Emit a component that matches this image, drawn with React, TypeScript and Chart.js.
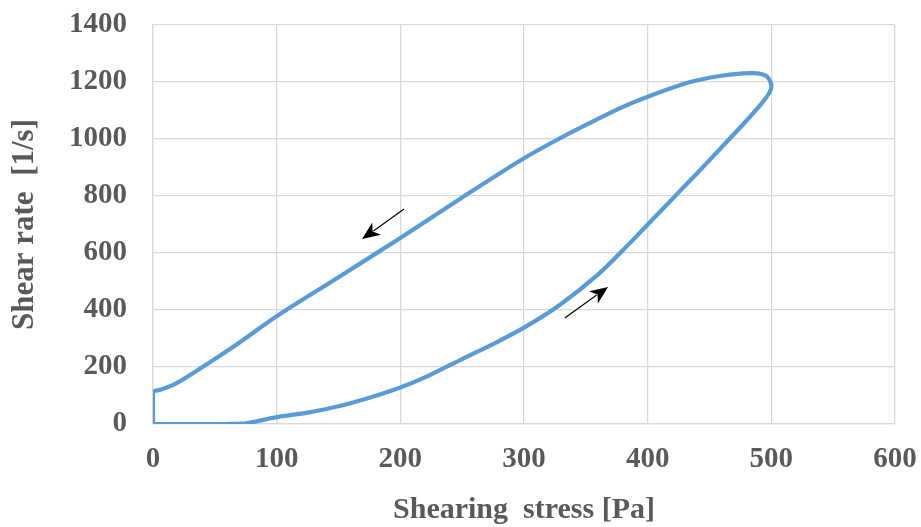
import React, { useEffect, useRef } from "react";
import { Chart, registerables } from "chart.js";

Chart.register(...registerables);

// Loop: loading branch (lower) then unloading branch (upper)
const stressPa = [0, 40, 60, 75, 100, 125, 150, 175, 200, 223, 250, 277, 300, 328, 360, 385, 400, 420, 440, 460, 480, 495, 500, 497, 489, 477, 457, 433, 400, 376, 355, 328, 299, 250, 200, 150, 100, 70, 50, 30, 18, 6, 0, 0];
const shearRate = [0, 0, 0, 2, 24, 40, 62, 92, 128, 170, 228, 285, 338, 415, 525, 632, 700, 790, 880, 972, 1065, 1140, 1182, 1217, 1230, 1230, 1220, 1198, 1148, 1105, 1060, 1000, 930, 795, 653, 515, 378, 286, 228, 172, 141, 120, 111, 0];

const xTicks = [0, 100, 200, 300, 400, 500, 600];
const yTicks = [0, 200, 400, 600, 800, 1000, 1200, 1400];

const arrowTailX = [203, 333];
const arrowTailY = [754, 372];
const arrowTipX = [169, 368];
const arrowTipY = [649, 481];

const xTitle = "Shearing  stress [Pa]";
const yTitle = "Shear rate  [1/s]";

const textColor = "#595959";
const gridColor = "#d9d9d9";
const fontFamily = "'Liberation Serif', 'Times New Roman', serif";

const arrowPlugin = {
  id: "arrows",
  afterDatasetsDraw(chart: any) {
    const { ctx, scales } = chart;
    const xs = scales.x;
    const ys = scales.y;
    ctx.save();
    for (let i = 0; i < arrowTailX.length; i++) {
      const x1 = xs.getPixelForValue(arrowTailX[i]);
      const y1 = ys.getPixelForValue(arrowTailY[i]);
      const x2 = xs.getPixelForValue(arrowTipX[i]);
      const y2 = ys.getPixelForValue(arrowTipY[i]);
      const ang = Math.atan2(y2 - y1, x2 - x1);
      const headLen = 18;
      const headHalf = 7.5;
      const bx = x2 - headLen * Math.cos(ang);
      const by = y2 - headLen * Math.sin(ang);
      ctx.strokeStyle = "#000";
      ctx.lineWidth = 1.2;
      ctx.beginPath();
      ctx.moveTo(x1, y1);
      ctx.lineTo(bx + 4 * Math.cos(ang), by + 4 * Math.sin(ang));
      ctx.stroke();
      const px = -Math.sin(ang);
      const py = Math.cos(ang);
      const nx = x2 - (headLen - 5) * Math.cos(ang);
      const ny = y2 - (headLen - 5) * Math.sin(ang);
      ctx.fillStyle = "#000";
      ctx.beginPath();
      ctx.moveTo(x2, y2);
      ctx.lineTo(bx + px * headHalf, by + py * headHalf);
      ctx.lineTo(nx, ny);
      ctx.lineTo(bx - px * headHalf, by - py * headHalf);
      ctx.closePath();
      ctx.fill();
    }
    ctx.restore();
  },
};

const zeroPad = (scale: any) => {
  scale.paddingTop = 0;
  scale.paddingBottom = 0;
  scale.paddingLeft = 0;
  scale.paddingRight = 0;
};

export default function App() {
  const canvasRef = useRef<HTMLCanvasElement | null>(null);

  useEffect(() => {
    const canvas = canvasRef.current;
    if (!canvas) return;
    const points = stressPa.map((x, i) => ({ x, y: shearRate[i] }));
    const chart = new Chart(canvas, {
      type: "scatter",
      data: {
        datasets: [
          {
            data: points,
            showLine: true,
            borderColor: "#5B9BD5",
            borderWidth: 4.2,
            pointRadius: 0,
            tension: 0.3,
            fill: false,
          },
        ],
      },
      options: {
        animation: false,
        responsive: false,
        maintainAspectRatio: false,
        layout: { padding: { top: 25, right: 26, bottom: 0, left: 0 } },
        plugins: {
          legend: { display: false },
          tooltip: { enabled: false },
        },
        scales: {
          x: {
            type: "linear",
            min: 0,
            max: 600,
            afterBuildTicks: (scale: any) => {
              scale.ticks = xTicks.map((v) => ({ value: v }));
            },
            afterFit: (scale: any) => {
              scale.height = 103;
              zeroPad(scale);
            },
            grid: { color: gridColor, lineWidth: 1.3, drawTicks: false },
            border: { color: gridColor, width: 1.3 },
            ticks: {
              color: textColor,
              font: { family: fontFamily, size: 29, weight: "bold" },
              padding: 18,
              maxRotation: 0,
              callback: (v: any) => String(v),
            },
            title: {
              display: true,
              text: xTitle,
              color: textColor,
              font: { family: fontFamily, size: 30, weight: "bold" },
              padding: { top: 0, bottom: -1 },
            },
          },
          y: {
            type: "linear",
            min: 0,
            max: 1400,
            afterBuildTicks: (scale: any) => {
              scale.ticks = yTicks.map((v) => ({ value: v }));
            },
            afterFit: (scale: any) => {
              scale.width = 153;
              zeroPad(scale);
            },
            grid: { color: gridColor, lineWidth: 1.3, drawTicks: false },
            border: { color: gridColor, width: 1.3 },
            ticks: {
              color: textColor,
              font: { family: fontFamily, size: 29, weight: "bold" },
              padding: 26,
              callback: (v: any) => String(v),
            },
            title: {
              display: true,
              text: yTitle,
              color: textColor,
              font: { family: fontFamily, size: 31, weight: "bold" },
              padding: { top: 6, bottom: 0 },
            },
          },
        },
      },
      plugins: [arrowPlugin],
    });
    return () => chart.destroy();
  }, []);

  return (
    <div style={{ position: "fixed", left: 0, top: 0, width: 921, height: 527, background: "#fff" }}>
      <canvas ref={canvasRef} width={921} height={527} style={{ width: 921, height: 527, display: "block" }} />
    </div>
  );
}
